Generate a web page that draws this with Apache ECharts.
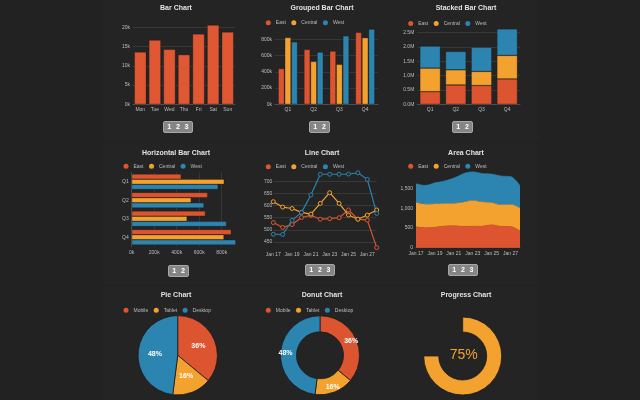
<!DOCTYPE html>
<html>
<head>
<meta charset="utf-8">
<script src="https://cdn.jsdelivr.net/npm/echarts@6/dist/echarts.min.js"></script>
<style>
html, body { margin: 0; padding: 0; width: 640px; height: 400px; overflow: hidden; background: #222222; }
.panel { position: absolute; background: #242424; }
.chart { position: absolute; }
.pager { position: absolute; height: 10px; background: #858585; border: 1px solid #a8a8a8; border-radius: 2px;
  box-sizing: content-box; padding: 0 1px; font: bold 7px "Liberation Sans", Arial, sans-serif; line-height: 10px; color: #fff; white-space: nowrap; }
.pager span { display: inline-block; width: 8.6px; text-align: center; }
</style>
</head>
<body>
<div class="panel" style="left:103px;top:0;width:146px;height:140px"></div>
<div class="panel" style="left:249px;top:0;width:146px;height:140px"></div>
<div class="panel" style="left:393px;top:0;width:146px;height:140px"></div>
<div class="panel" style="left:103px;top:144px;width:146px;height:140px"></div>
<div class="panel" style="left:249px;top:144px;width:146px;height:140px"></div>
<div class="panel" style="left:393px;top:144px;width:146px;height:140px"></div>
<div class="panel" style="left:103px;top:287px;width:146px;height:113px"></div>
<div class="panel" style="left:249px;top:287px;width:146px;height:113px"></div>
<div class="panel" style="left:393px;top:287px;width:146px;height:113px"></div>

<div id="c1" class="chart" style="left:103px;top:0;width:146px;height:140px"></div>
<div id="c2" class="chart" style="left:249px;top:0;width:146px;height:140px"></div>
<div id="c3" class="chart" style="left:393px;top:0;width:146px;height:140px"></div>
<div id="c4" class="chart" style="left:103px;top:144px;width:146px;height:140px"></div>
<div id="c5" class="chart" style="left:249px;top:144px;width:146px;height:140px"></div>
<div id="c6" class="chart" style="left:393px;top:144px;width:146px;height:140px"></div>
<div id="c7" class="chart" style="left:103px;top:287px;width:146px;height:113px"></div>
<div id="c8" class="chart" style="left:249px;top:287px;width:146px;height:113px"></div>
<div id="c9" class="chart" style="left:393px;top:287px;width:146px;height:113px"></div>

<div class="pager" style="left:163px;top:121px"><span>1</span><span>2</span><span>3</span></div>
<div class="pager" style="left:309px;top:121px"><span>1</span><span>2</span></div>
<div class="pager" style="left:452px;top:121px"><span>1</span><span>2</span></div>
<div class="pager" style="left:168px;top:265px"><span>1</span><span>2</span></div>
<div class="pager" style="left:305px;top:264px"><span>1</span><span>2</span><span>3</span></div>
<div class="pager" style="left:448px;top:264px"><span>1</span><span>2</span><span>3</span></div>

<script>
// data
var days = ['Mon', 'Tue', 'Wed', 'Thu', 'Fri', 'Sat', 'Sun'];
var dailyValues = [13600, 16700, 14300, 12900, 18300, 20600, 18800];

var quarters = ['Q1', 'Q2', 'Q3', 'Q4'];
var regions = ['East', 'Central', 'West'];
var eastSales = [440000, 675000, 655000, 885000];
var centralSales = [822000, 528000, 492000, 820000];
var westSales = [768000, 642000, 842000, 925000];

var dates = ['Jan 17', 'Jan 18', 'Jan 19', 'Jan 20', 'Jan 21', 'Jan 22', 'Jan 23', 'Jan 24', 'Jan 25', 'Jan 26', 'Jan 27', 'Jan 28'];
var eastTrend = [530, 510, 522, 551, 560, 544, 546, 550, 582, 544, 540, 427];
var centralTrend = [616, 594, 588, 572, 565, 609, 653, 609, 561, 544, 561, 582];
var westTrend = [482, 481, 539, 572, 644, 729, 729, 729, 730, 735, 708, 568];

var devices = ['Mobile', 'Tablet', 'Desktop'];
var deviceShare = [36, 16, 48];

var progressValue = [75];

var colors = ['#dc5530', '#f4a22f', '#2c84b1'];
var FONT = '"Liberation Sans", Arial, sans-serif';

function title(text, top) {
	return {
		text: text, left: 'center', top: top, padding: 0,
		textStyle: { color: '#e2e2e2', fontSize: 7, fontWeight: 'bold', fontFamily: FONT }
	};
}

function legend(left, top, names) {
	return {
		left: left, top: top, padding: 0, icon: 'circle',
		itemWidth: 5, itemHeight: 5, itemGap: 5.5,
		textStyle: { color: '#bdbdbd', fontSize: 5, fontFamily: FONT, width: 20 },
		data: names.map(function (n, i) {
			return { name: n, itemStyle: { color: colors[i], borderWidth: 0 } };
		})
	};
}

function grid(l, r, t, b) {
	return { left: l, right: r, top: t, bottom: b, containLabel: false, outerBoundsMode: 'none' };
}

function valueAxis(max, fmt, min) {
	return {
		type: 'value', min: min || 0, max: max,
		axisLine: { show: false }, axisTick: { show: false },
		axisLabel: { color: '#bdbdbd', fontSize: 5, fontFamily: FONT, margin: 3, showMaxLabel: false, showMinLabel: min ? false : true, formatter: fmt },
		splitLine: { show: true, showMaxLine: false, showMinLine: min ? false : true, lineStyle: { color: '#3d3d3d', width: 0.8 } }
	};
}

function catAxis(data, extra) {
	var a = {
		type: 'category', data: data,
		axisLine: { show: true, lineStyle: { color: '#555', width: 0.8 } },
		axisTick: { show: false },
		axisLabel: { color: '#bdbdbd', fontSize: 5, fontFamily: FONT, margin: 3 },
		splitLine: { show: false }
	};
	for (var k in extra) a[k] = extra[k];
	return a;
}

var kFmt = function (v) { return (v / 1000) + 'k'; };
var mFmt = function (v) { return (v / 1000000).toFixed(1) + 'M'; };

function barSeries(name, data, c, gap, catGap, stack) {
	return {
		name: name, type: 'bar', data: data, stack: stack,
		barGap: gap, barCategoryGap: catGap,
		itemStyle: { color: c, borderColor: 'rgba(20,20,20,0.6)', borderWidth: 0.5 }
	};
}

// 1 bar chart
echarts.init(document.getElementById('c1')).setOption({
	animation: false,
	title: title('Bar Chart', 4.5),
	grid: grid(30, 14, 23.5, 35.7),
	xAxis: catAxis(days),
	yAxis: valueAxis(21000, kFmt),
	series: [barSeries('Sales', dailyValues, '#e05833', '10%', '18%')]
});

// 2 grouped bar
echarts.init(document.getElementById('c2')).setOption({
	animation: false,
	title: title('Grouped Bar Chart', 4.5),
	legend: legend(16.8, 20.3, regions),
	grid: grid(26, 17, 27.1, 35.7),
	xAxis: catAxis(quarters),
	yAxis: valueAxis(950000, kFmt),
	series: [
		barSeries('East', eastSales, colors[0], '6%', '25%'),
		barSeries('Central', centralSales, colors[1], '6%', '25%'),
		barSeries('West', westSales, colors[2], '6%', '25%')
	]
});

// 3 stacked bar
echarts.init(document.getElementById('c3')).setOption({
	animation: false,
	title: title('Stacked Bar Chart', 4.5),
	legend: legend(15.2, 21, regions),
	grid: grid(24.3, 19, 26.9, 35.7),
	xAxis: catAxis(quarters),
	yAxis: valueAxis(2700000, mFmt),
	series: [
		barSeries('East', eastSales, colors[0], '0%', '20%', 's'),
		barSeries('Central', centralSales, colors[1], '0%', '20%', 's'),
		barSeries('West', westSales, colors[2], '0%', '20%', 's')
	]
});

// 4 horizontal bar
var hx = valueAxis(950000, kFmt);
hx.axisLabel.margin = 4;
echarts.init(document.getElementById('c4')).setOption({
	animation: false,
	title: title('Horizontal Bar Chart', 5.3),
	legend: legend(20.5, 19.7, regions),
	grid: grid(28.7, 10.4, 28.5, 37.5),
	xAxis: hx,
	yAxis: catAxis(quarters, { inverse: true }),
	series: [
		barSeries('East', eastSales, colors[0], '0%', '16%'),
		barSeries('Central', centralSales, colors[1], '0%', '16%'),
		barSeries('West', westSales, colors[2], '0%', '16%')
	]
});

// 5 line chart
function lineSeries(name, data, c) {
	return {
		name: name, type: 'line', data: data, symbol: 'circle', symbolSize: 4,
		lineStyle: { color: c, width: 1.2 },
		itemStyle: { color: '#262626', borderColor: c, borderWidth: 1 }
	};
}
var ly = valueAxis(740, null, 420);
ly.axisLabel.margin = 1;
echarts.init(document.getElementById('c5')).setOption({
	animation: false,
	title: title('Line Chart', 5.3),
	legend: legend(16.8, 20.3, regions),
	grid: grid(24.3, 18.3, 27.6, 34.7),
	xAxis: catAxis(dates, { boundaryGap: false, axisLine: { show: false }, axisLabel: { color: '#bdbdbd', fontSize: 5, fontFamily: FONT, margin: 3, interval: 1 } }),
	yAxis: ly,
	series: [
		lineSeries('East', eastTrend, colors[0]),
		lineSeries('Central', centralTrend, colors[1]),
		lineSeries('West', westTrend, colors[2])
	]
});

// 6 area chart
function areaSeries(name, data, c) {
	return {
		name: name, type: 'line', stack: 'a', data: data, smooth: 0.35, symbol: 'none',
		lineStyle: { color: c, width: 0.5 }, itemStyle: { color: c },
		areaStyle: { color: c, opacity: 1 }
	};
}
var ay = valueAxis(2000, null);
ay.splitNumber = 4;
echarts.init(document.getElementById('c6')).setOption({
	animation: false,
	title: title('Area Chart', 5.3),
	legend: legend(15.2, 19.7, regions),
	grid: grid(23, 19, 25, 36.3),
	xAxis: catAxis(dates, { boundaryGap: false, axisLabel: { color: '#bdbdbd', fontSize: 5, fontFamily: FONT, margin: 3, interval: 1 } }),
	yAxis: ay,
	series: [
		areaSeries('East', eastTrend, colors[0]),
		areaSeries('Central', centralTrend, colors[1]),
		areaSeries('West', westTrend, colors[2])
	]
});

// 7/8 pie + donut
function pieOption(name, radius, cx, legendLeft) {
	return {
		animation: false,
		title: title(name, 5),
		legend: legend(legendLeft, 20.7, devices),
		series: [{
			type: 'pie', radius: radius, center: [cx, 68.3], startAngle: 90, silent: true,
			label: { show: true, position: 'inside', formatter: '{c}%', color: '#fff', fontSize: 7, fontWeight: 'bold', fontFamily: FONT },
			labelLine: { show: false },
			itemStyle: { borderColor: '#1c1c1c', borderWidth: 0.8 },
			data: devices.map(function (d, i) {
				return { name: d, value: deviceShare[i], itemStyle: { color: colors[i] } };
			})
		}]
	};
}
echarts.init(document.getElementById('c7')).setOption(pieOption('Pie Chart', [0, 39.7], 74.7, 20.5));
echarts.init(document.getElementById('c8')).setOption(pieOption('Donut Chart', [23.5, 39.5], 71, 16.8));

// 9 progress
echarts.init(document.getElementById('c9')).setOption({
	animation: false,
	title: title('Progress Chart', 5),
	graphic: [{
		type: 'text', left: 69.7 - 13, top: 69 - 8,
		style: { text: progressValue[0] + '%', fill: colors[1], font: '14px ' + FONT, width: 26, align: 'center' }
	}],
	series: [{
		type: 'pie', radius: [24, 39], center: [69.7, 69], startAngle: 90, silent: true,
		label: { show: false }, labelLine: { show: false },
		itemStyle: { borderColor: '#1c1c1c', borderWidth: 0.8 },
		data: [
			{ value: progressValue[0], itemStyle: { color: colors[1] } },
			{ value: 100 - progressValue[0], itemStyle: { color: 'rgba(0,0,0,0)', borderWidth: 0 } }
		]
	}]
});
</script>
</body>
</html>
